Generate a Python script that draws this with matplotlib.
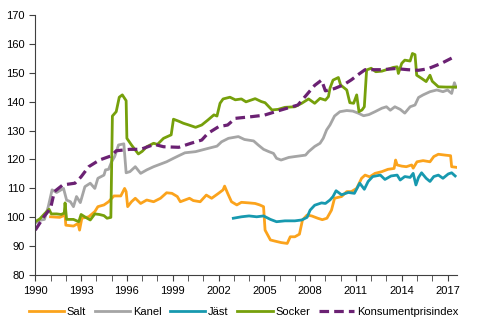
import matplotlib
matplotlib.use("Agg")
import matplotlib.pyplot as plt

plt.rcParams['font.family'] = ['Liberation Sans', 'DejaVu Sans']
plt.rcParams['font.size'] = 8

# values (decimal year, index)
salt_x = [1991.0, 1991.6, 1991.95, 1992.0, 1992.5, 1992.8, 1992.9, 1993.05, 1993.5, 1993.9,
          1994.1, 1994.5, 1994.8, 1995.15, 1995.6, 1995.85, 1995.95, 1996.05, 1996.3, 1996.55,
          1996.9, 1997.3, 1997.75, 1998.2, 1998.6, 1998.95, 1999.3, 1999.5, 1999.8, 2000.1,
          2000.35, 2000.8, 2001.2, 2001.55, 2002.0, 2002.3, 2002.4, 2002.6, 2002.85, 2003.2,
          2003.5, 2004.0, 2004.4, 2004.7, 2004.95, 2005.05, 2005.4, 2005.7, 2006.1, 2006.5,
          2006.7, 2007.0, 2007.3, 2007.5, 2007.8, 2008.1, 2008.5, 2008.8, 2009.1, 2009.4,
          2009.6, 2010.06, 2010.4, 2010.7, 2011.05, 2011.37, 2011.6, 2011.9, 2012.25, 2012.7,
          2013.1, 2013.5, 2013.6, 2013.7, 2014.0, 2014.3, 2014.65, 2014.75, 2015.0, 2015.4,
          2015.85, 2016.1, 2016.4, 2016.85, 2017.2, 2017.27, 2017.55]
salt = [100.2, 100.0, 100.8, 97.3, 97.0, 97.9, 95.6, 99.7, 100.2, 102.0,
        103.7, 104.3, 105.4, 107.4, 107.4, 110.0, 108.9, 103.7, 105.4, 106.6,
        104.8, 106.0, 105.4, 106.6, 108.5, 108.3, 107.2, 105.4, 106.0, 106.6,
        105.8, 105.4, 107.7, 106.6, 108.3, 109.5, 110.8, 108.3, 105.4, 104.3,
        105.2, 105.0, 104.8, 104.3, 103.7, 95.6, 92.2, 91.8, 91.3, 91.0,
        93.3, 93.3, 94.2, 99.1, 100.8, 100.5, 99.7, 99.2, 99.7, 102.5,
        106.6, 107.2, 108.9, 108.9, 110.0, 113.5, 114.6, 114.0, 115.2, 115.8,
        116.6, 116.9, 119.8, 118.1, 117.7, 117.5, 118.1, 117.0, 119.2, 119.6,
        119.2, 121.0, 121.8, 121.5, 121.3, 117.5, 117.3]

kanel_x = [1990.0, 1990.3, 1990.6, 1990.85, 1991.1, 1991.4, 1991.85, 1992.05, 1992.3, 1992.5,
           1992.7, 1992.95, 1993.25, 1993.6, 1993.9, 1994.1, 1994.5, 1994.6, 1994.8, 1995.0,
           1995.2, 1995.45, 1995.8, 1995.95, 1996.2, 1996.55, 1996.9, 1997.3, 1997.75, 1998.2,
           1998.6, 1999.05, 1999.4, 1999.8, 2000.5, 2001.3, 2001.9, 2002.2, 2002.65, 2003.3,
           2003.7, 2004.3, 2004.6, 2004.95, 2005.3, 2005.6, 2005.8, 2006.1, 2006.6, 2007.0,
           2007.7, 2007.9, 2008.3, 2008.65, 2008.86, 2009.08, 2009.3, 2009.6, 2009.95, 2010.4,
           2010.8, 2011.15, 2011.5, 2011.85, 2012.25, 2012.7, 2013.0, 2013.25, 2013.55, 2013.9,
           2014.2, 2014.55, 2014.87, 2015.1, 2015.4, 2015.85, 2016.3, 2016.7, 2017.0, 2017.27,
           2017.45, 2017.55]
kanel = [98.0, 99.0, 99.3, 103.7, 109.5, 108.6, 110.0, 106.0, 105.4, 103.7,
         107.2, 105.1, 110.6, 111.8, 110.0, 113.5, 114.6, 116.4, 116.6, 119.2,
         121.0, 125.0, 125.4, 115.4, 115.8, 117.5, 115.2, 116.4, 117.5, 118.4,
         119.2, 120.4, 121.3, 122.3, 122.7, 123.8, 124.6, 126.1, 127.3, 127.9,
         126.9, 126.4, 125.0, 123.5, 122.7, 122.1, 120.4, 119.8, 120.7, 121.0,
         121.5, 122.7, 124.5, 125.6, 127.3, 130.2, 131.9, 135.0, 136.5, 136.9,
         136.7, 136.0, 135.1, 135.5, 136.5, 137.7, 138.2, 137.0, 138.2, 137.3,
         136.0, 138.2, 138.8, 141.4, 142.3, 143.4, 144.0, 143.4, 144.0, 142.8,
         146.5, 145.0]

jast_x = [2002.97, 2003.5, 2004.0, 2004.5, 2004.95, 2005.4, 2005.8, 2006.35, 2007.0, 2007.45,
          2007.8, 2008.0, 2008.3, 2008.75, 2009.0, 2009.3, 2009.5, 2009.7, 2010.06, 2010.5,
          2010.9, 2011.25, 2011.55, 2011.8, 2012.1, 2012.6, 2012.9, 2013.3, 2013.7, 2013.9,
          2014.2, 2014.55, 2014.75, 2014.93, 2015.1, 2015.3, 2015.6, 2015.85, 2016.1, 2016.4,
          2016.7, 2017.05, 2017.27, 2017.5]
jast = [99.7, 100.2, 100.5, 100.2, 100.5, 99.3, 98.5, 98.8, 98.8, 99.1,
        100.0, 102.5, 104.2, 105.0, 104.8, 106.0, 107.2, 109.2, 107.8, 108.6,
        108.3, 111.8, 109.7, 112.4, 114.1, 114.6, 113.1, 114.3, 114.6, 112.9,
        114.1, 113.8, 115.2, 111.2, 113.8, 115.4, 113.5, 112.4, 114.1, 114.6,
        113.5, 115.0, 115.4, 114.3]

socker_x = [1990.0, 1990.3, 1990.6, 1990.9, 1991.05, 1991.4, 1991.7, 1991.9, 1991.95, 1992.05,
            1992.5, 1992.85, 1993.0, 1993.3, 1993.6, 1993.9, 1994.2, 1994.5, 1994.7, 1994.95,
            1995.05, 1995.3, 1995.5, 1995.7, 1995.95, 1996.0, 1996.3, 1996.75, 1997.0, 1997.3,
            1997.75, 1998.0, 1998.4, 1998.9, 1999.05, 1999.4, 1999.7, 2000.0, 2000.5, 2000.9,
            2001.3, 2001.7, 2001.9, 2002.1, 2002.3, 2002.75, 2003.1, 2003.5, 2003.8, 2004.4,
            2004.8, 2005.05, 2005.5, 2005.9, 2006.35, 2007.0, 2007.45, 2007.9, 2008.3, 2008.65,
            2009.0, 2009.2, 2009.3, 2009.5, 2009.85, 2010.0, 2010.4, 2010.6, 2010.85, 2011.05,
            2011.2, 2011.4, 2011.55, 2011.7, 2012.0, 2012.3, 2012.7, 2013.0, 2013.45, 2013.7,
            2013.78, 2014.0, 2014.2, 2014.55, 2014.7, 2014.87, 2014.98, 2015.3, 2015.6, 2015.85,
            2016.0, 2016.4, 2016.9, 2017.55]
socker = [98.5, 99.5, 101.2, 102.8, 101.2, 101.2, 101.0, 101.5, 105.0, 99.3,
          99.3, 98.5, 101.0, 100.0, 99.1, 101.2, 101.0, 100.6, 99.7, 100.0,
          135.0, 136.5, 141.5, 142.3, 140.3, 127.3, 125.0, 121.9, 122.8, 124.4,
          125.6, 125.2, 127.3, 128.5, 133.9, 133.2, 132.5, 132.0, 131.1, 131.9,
          133.6, 135.4, 135.0, 139.4, 140.9, 141.5, 140.6, 140.9, 139.9, 141.0,
          140.0, 139.6, 137.1, 137.3, 138.0, 138.2, 139.4, 140.9, 139.4, 141.1,
          140.5, 141.7, 144.6, 147.4, 148.3, 145.7, 144.0, 139.6, 139.4, 142.3,
          136.5, 137.1, 138.2, 150.9, 151.5, 150.3, 150.5, 151.0, 151.8, 152.0,
          149.7, 153.2, 154.3, 154.0, 156.6, 156.2, 149.1, 148.0, 146.9, 149.1,
          147.0, 145.1, 145.0, 145.0]

kpi_x = [1990.0, 1990.6, 1991.0, 1991.25, 1991.8, 1992.6, 1993.0, 1993.5, 1994.2, 1995.0,
         1995.3, 1996.2, 1996.9, 1997.8, 1998.4, 1999.4, 2000.2, 2000.9, 2001.3, 2002.0,
         2002.6, 2003.1, 2004.2, 2005.0, 2006.1, 2007.2, 2008.3, 2008.75, 2009.0, 2009.6,
         2010.2, 2010.7, 2011.2, 2011.6, 2012.7, 2013.6, 2014.4, 2015.1, 2015.7, 2016.6,
         2017.27]
kpi = [95.6, 100.5, 103.1, 108.9, 111.2, 111.8, 114.0, 117.5, 119.8, 121.3,
       123.0, 123.5, 123.5, 125.2, 124.4, 124.2, 125.6, 126.7, 129.0, 131.3,
       131.9, 134.2, 134.8, 135.3, 137.1, 138.8, 145.6, 147.4, 143.7, 144.5,
       145.8, 147.5, 149.5, 151.0, 151.0, 151.4, 151.0, 150.8, 151.3, 153.2,
       155.0]

label_years = list(range(1990, 2018, 3))
all_years = list(range(1990, 2018))

fig = plt.figure(figsize=(4.82, 3.30), dpi=100)
ax = fig.add_axes([0.0732, 0.1658, 0.8743, 0.7897])

lw = 2.0
ax.plot(salt_x, salt, color='#FBA31C', lw=lw, label='Salt')
ax.plot(kanel_x, kanel, color='#A5A5A5', lw=lw, label='Kanel')
ax.plot(jast_x, jast, color='#1799AF', lw=lw, label='Jäst')
ax.plot(socker_x, socker, color='#76A00B', lw=lw, label='Socker')
ax.plot(kpi_x, kpi, color='#6B2173', lw=2.3, ls=(0, (3, 1.6)), label='Konsumentprisindex')

ax.set_xlim(1990, 2017.6)
ax.set_ylim(80, 170)
ax.set_yticks(range(80, 171, 10))
ax.set_xticks(label_years)
ax.set_xticklabels([str(y) for y in label_years])
ax.set_xticks(all_years, minor=True)

for s in ['top', 'right']:
    ax.spines[s].set_visible(False)
for s in ['left', 'bottom']:
    ax.spines[s].set_color('#404040')
ax.tick_params(which='both', direction='out', length=4, color='#404040', labelsize=8)

fig.legend(loc='center', bbox_to_anchor=(0.505, 0.055), ncol=5, frameon=False,
           handlelength=3.2, handletextpad=0.25, columnspacing=0.75, fontsize=8)

fig.savefig('out.png', dpi=100)
